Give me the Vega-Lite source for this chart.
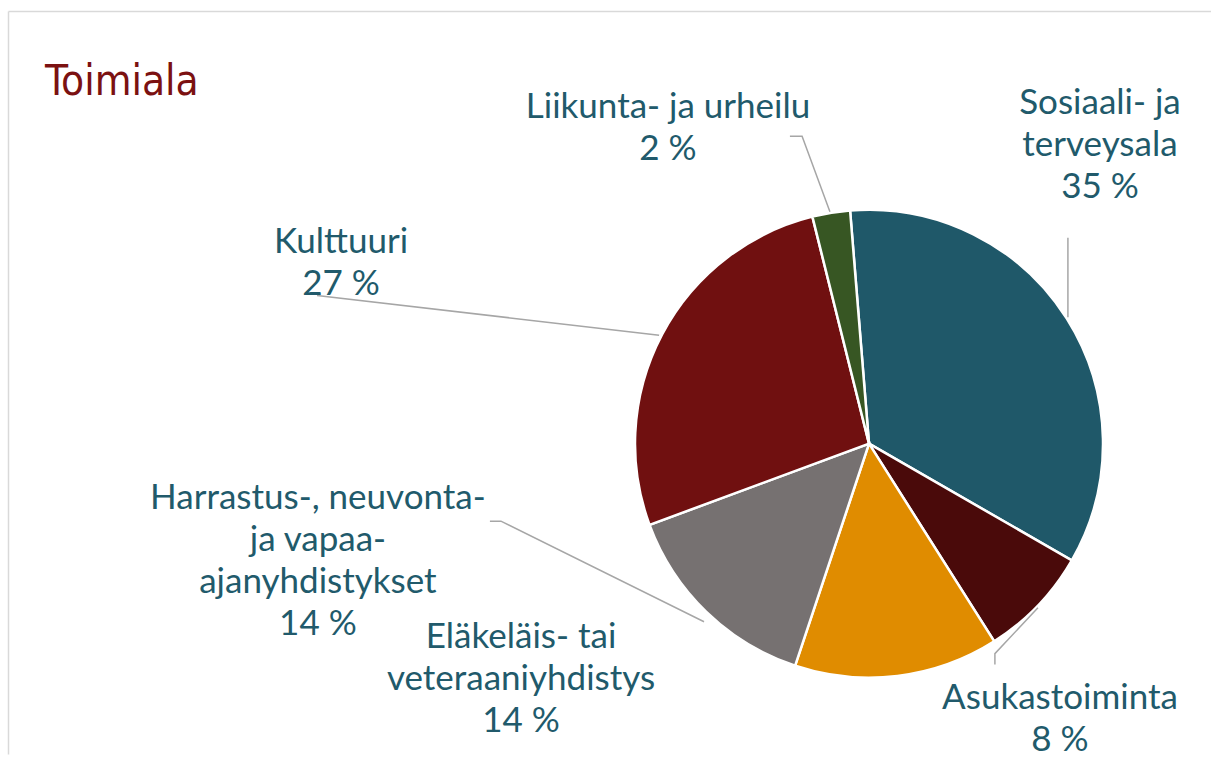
{
  "$schema": "https://vega.github.io/schema/vega-lite/v6.json",
  "width": 1211,
  "height": 758,
  "autosize": {"type": "fit", "contains": "padding"},
  "padding": {"left": 8, "top": 11, "right": 0, "bottom": 0},
  "background": "white",
  "config": {"view": {"stroke": null}},
  "datasets": {
    "slices": [
      {"name": "Sosiaali- ja terveysala", "value": 34.6, "i": 1, "label": "Sosiaali- ja\nterveysala\n35 %", "lx": 0.987, "ly": 1.4658},
      {"name": "Asukastoiminta", "value": 7.7, "i": 2, "label": "Asukastoiminta\n8 %", "lx": 0.816, "ly": -1.094},
      {"name": "Eläkeläis- tai veteraaniyhdistys", "value": 14.1, "i": 3, "label": "Eläkeläis- tai\nveteraaniyhdistys\n14 %", "lx": -1.487, "ly": -0.8291},
      {"name": "Harrastus-, neuvonta- ja vapaa-ajanyhdistykset", "value": 14.25, "i": 4, "label": "Harrastus-, neuvonta-\nja vapaa-\najanyhdistykset\n14 %", "lx": -2.355, "ly": -0.235},
      {"name": "Kulttuuri", "value": 26.75, "i": 5, "label": "Kulttuuri\n27 %", "lx": -2.256, "ly": 0.8675},
      {"name": "Liikunta- ja urheilu", "value": 2.6, "i": 6, "label": "Liikunta- ja urheilu\n2 %", "lx": -0.859, "ly": 1.4444}
    ],
    "leaders": [
      {"name": "Liikunta- ja urheilu", "k": 1, "px": -0.338, "py": 1.321},
      {"name": "Liikunta- ja urheilu", "k": 2, "px": -0.286, "py": 1.321},
      {"name": "Liikunta- ja urheilu", "k": 3, "px": -0.167, "py": 0.996},
      {"name": "Sosiaali- ja terveysala", "k": 1, "px": 0.85, "py": 0.885},
      {"name": "Sosiaali- ja terveysala", "k": 2, "px": 0.85, "py": 0.543},
      {"name": "Kulttuuri", "k": 1, "px": -2.359, "py": 0.637},
      {"name": "Kulttuuri", "k": 2, "px": -0.897, "py": 0.466},
      {"name": "Harrastus-, neuvonta- ja vapaa-ajanyhdistykset", "k": 1, "px": -1.62, "py": -0.333},
      {"name": "Harrastus-, neuvonta- ja vapaa-ajanyhdistykset", "k": 2, "px": -1.573, "py": -0.333},
      {"name": "Harrastus-, neuvonta- ja vapaa-ajanyhdistykset", "k": 3, "px": -0.705, "py": -0.765},
      {"name": "Asukastoiminta", "k": 1, "px": 0.722, "py": -0.705},
      {"name": "Asukastoiminta", "k": 2, "px": 0.538, "py": -0.902},
      {"name": "Asukastoiminta", "k": 3, "px": 0.538, "py": -0.949}
    ],
    "titleData": [{"t": "Toimiala"}]
  },
  "layer": [
    {
      "data": {"name": "slices"},
      "mark": {"type": "arc", "outerRadius": 234, "stroke": "white", "strokeWidth": 2.5},
      "encoding": {
        "x": {"datum": 0, "type": "quantitative", "scale": {"domain": [-3.6795, 1.4615], "nice": false, "zero": false},
              "axis": {"orient": "top", "ticks": false, "labels": false, "grid": false, "title": null, "domainColor": "#d9d9d9", "domainWidth": 1.5}},
        "y": {"datum": 0, "type": "quantitative", "scale": {"domain": [-1.3333, 1.859], "nice": false, "zero": false},
              "axis": {"orient": "left", "ticks": false, "labels": false, "grid": false, "title": null, "domainColor": "#d9d9d9", "domainWidth": 1.5}},
        "theta": {"field": "value", "type": "quantitative", "stack": true, "scale": {"range": [-0.081, 6.2022]}},
        "order": {"field": "i", "type": "quantitative"},
        "color": {
          "field": "name", "type": "nominal", "legend": null,
          "scale": {
            "domain": ["Sosiaali- ja terveysala", "Asukastoiminta", "Eläkeläis- tai veteraaniyhdistys", "Harrastus-, neuvonta- ja vapaa-ajanyhdistykset", "Kulttuuri", "Liikunta- ja urheilu"],
            "range": ["#1F5869", "#4A0A0A", "#E08C00", "#767171", "#701010", "#375623"]
          }
        }
      }
    },
    {
      "data": {"name": "leaders"},
      "mark": {"type": "line", "color": "#a6a6a6", "strokeWidth": 1.5},
      "encoding": {
        "x": {"field": "px", "type": "quantitative"},
        "y": {"field": "py", "type": "quantitative"},
        "detail": {"field": "name"},
        "order": {"field": "k", "type": "quantitative"}
      }
    },
    {
      "data": {"name": "slices"},
      "mark": {"type": "text", "lineBreak": "\n", "font": "Lato", "fontSize": 35, "lineHeight": 42, "align": "center", "baseline": "middle", "color": "#215A6B"},
      "encoding": {
        "x": {"field": "lx", "type": "quantitative"},
        "y": {"field": "ly", "type": "quantitative"},
        "text": {"field": "label"}
      }
    },
    {
      "data": {"name": "titleData"},
      "mark": {"type": "text", "font": "DejaVu Sans Condensed", "fontSize": 42, "align": "left", "baseline": "alphabetic", "color": "#7B1111"},
      "encoding": {
        "x": {"datum": -3.521, "type": "quantitative"},
        "y": {"datum": 1.5, "type": "quantitative"},
        "text": {"field": "t"}
      }
    }
  ]
}
